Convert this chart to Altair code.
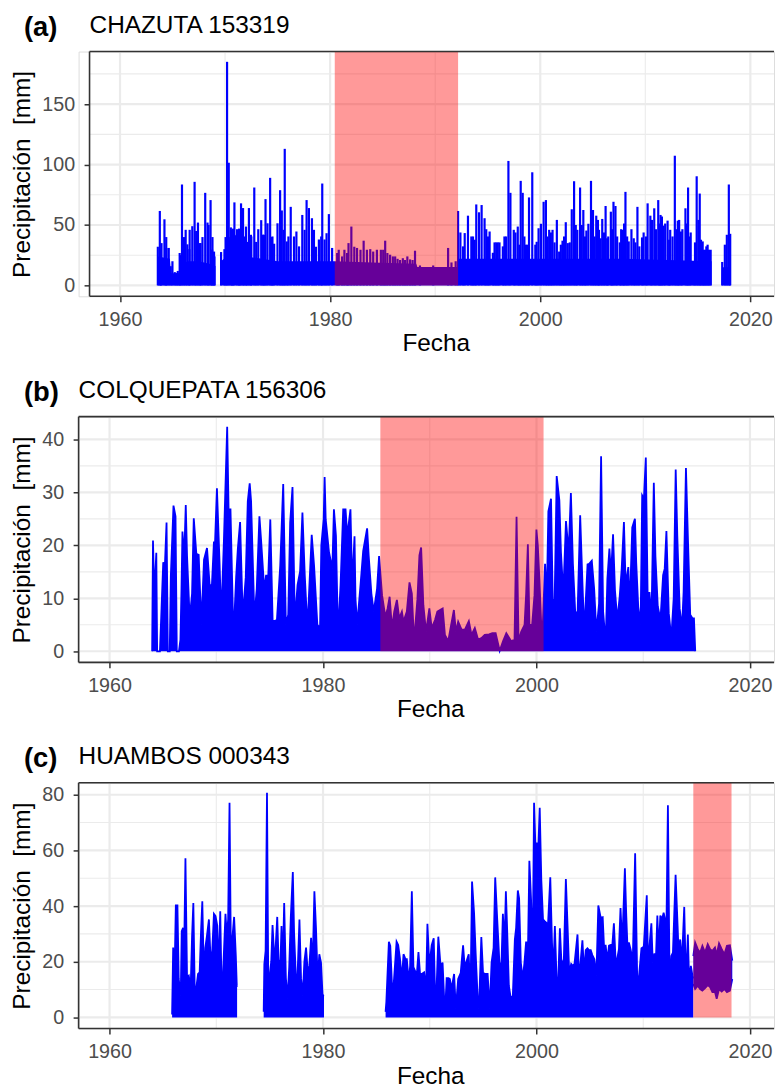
import altair as alt
import pandas as pd

FONT = "Liberation Sans"
BLUE = "#0000FF"

# ---------------- Panel (a) CHAZUTA 153319 ----------------
a_spikes = [
    (1963.60, 32), (1963.79, 61.6), (1963.88, 29.6), (1963.95, 35), (1964.23, 54.7), (1964.40, 40),
    (1964.42, 31), (1964.64, 31), (1964.83, 15.9), (1964.99, 20), (1965.21, 11), (1965.37, 10.4),
    (1965.50, 12), (1965.68, 26.8), (1965.73, 25), (1965.90, 83.5), (1966.08, 40), (1966.25, 46),
    (1966.41, 34), (1966.60, 30), (1966.63, 46), (1966.88, 49), (1967.10, 85.7), (1967.25, 45),
    (1967.42, 52), (1967.60, 35), (1967.67, 35), (1967.85, 40), (1968.11, 76.6), (1968.33, 52),
    (1968.43, 50), (1968.62, 70.6), (1968.77, 29.6), (1968.80, 40), (1968.95, 28), (1968.99, 24),
    (1969.62, 27.6), (1969.94, 30), (1970.05, 40), (1970.19, 185), (1970.35, 101.5), (1970.55, 48),
    (1970.67, 46), (1970.75, 47), (1970.89, 68.7), (1971.14, 46.5), (1971.33, 47), (1971.36, 46),
    (1971.52, 67.9), (1971.71, 64), (1971.83, 40.5), (1971.99, 48.7), (1972.10, 36), (1972.27, 64),
    (1972.46, 41.9), (1972.50, 40.5), (1972.78, 81), (1972.96, 36), (1973.16, 46.5), (1973.44, 54),
    (1973.60, 42), (1973.73, 41.9), (1973.85, 71.4), (1974.04, 51.4), (1974.29, 89), (1974.45, 40),
    (1974.51, 40.5), (1974.67, 34.5), (1974.99, 51.4), (1975.24, 78.8), (1975.40, 62), (1975.56, 46),
    (1975.68, 113), (1975.87, 36.4), (1976.03, 40.5), (1976.25, 65), (1976.56, 40.5), (1976.79, 44.6),
    (1977.04, 32.3), (1977.35, 58.3), (1977.57, 46), (1977.76, 70.6), (1977.98, 64), (1978.27, 55.6),
    (1978.46, 46), (1978.65, 32), (1978.93, 38), (1979.15, 40.5), (1979.25, 84.3), (1979.47, 38),
    (1979.66, 43.2), (1979.88, 59), (1980.19, 31),
    (1980.67, 26.8), (1980.82, 29.5), (1981.14, 24), (1981.36, 29.5), (1981.61, 26.8), (1981.75, 35),
    (1982.02, 48.7), (1982.30, 32), (1982.56, 31), (1982.89, 29.5), (1983.19, 37), (1983.50, 29.5),
    (1983.82, 30), (1984.10, 28), (1984.45, 29.5), (1984.83, 29.5), (1985.05, 29.5), (1985.24, 37),
    (1985.45, 26.8), (1985.71, 25.4), (1985.97, 24), (1986.19, 24), (1986.42, 22), (1986.66, 21),
    (1986.92, 22.5), (1987.13, 21), (1987.35, 24), (1987.61, 21.5), (1987.85, 21), (1988.08, 28.7),
    (1988.55, 16.5), (1989.81, 16.5), (1991.23, 31), (1991.55, 19), (1991.95, 20),
    (1992.18, 61.6), (1992.40, 43.8), (1992.65, 32.3), (1992.81, 43.3), (1993.12, 57.7), (1993.44, 40.5),
    (1993.60, 40.5), (1993.76, 37.8), (1993.91, 67), (1994.17, 60.5), (1994.42, 66.5), (1994.70, 55.6),
    (1994.86, 46.5), (1995.02, 40.5), (1995.18, 44.6), (1995.49, 27), (1995.65, 35.6), (1995.81, 35.6),
    (1995.96, 35.6), (1996.12, 35.6), (1996.44, 32.3), (1996.59, 40.5), (1996.75, 40.5), (1996.97, 103),
    (1997.16, 76.6), (1997.48, 46), (1997.64, 43.8), (1997.86, 48.7), (1998.01, 33.7), (1998.14, 86.5),
    (1998.33, 76.6), (1998.49, 40.5), (1998.65, 33.7), (1998.80, 33.7), (1998.93, 72.8), (1999.24, 93.6),
    (1999.53, 33.7), (1999.66, 36.1), (1999.84, 47.3), (2000.06, 51), (2000.32, 69.2), (2000.54, 70.6),
    (2000.70, 40.5), (2000.85, 46), (2001.01, 43.8), (2001.17, 46), (2001.36, 35.6), (2001.58, 54.2),
    (2001.80, 28), (2001.96, 33.7), (2002.12, 37), (2002.27, 40.5), (2002.43, 52.3), (2002.62, 35),
    (2002.81, 35.6), (2003.00, 63), (2003.22, 86.2), (2003.38, 50), (2003.53, 46), (2003.79, 81),
    (2003.95, 50), (2004.10, 62.4), (2004.26, 40.5), (2004.39, 45.4), (2004.58, 51), (2004.83, 86.5),
    (2005.02, 62.4), (2005.18, 40.5), (2005.33, 57.7), (2005.49, 54.2), (2005.59, 46), (2005.74, 39),
    (2005.90, 55), (2006.06, 43.8), (2006.22, 65.7), (2006.37, 39), (2006.47, 40.5), (2006.72, 61),
    (2006.85, 46.5), (2006.97, 69.2), (2007.16, 65.7), (2007.32, 40.5), (2007.57, 35.6), (2007.70, 46.5),
    (2007.86, 46), (2007.98, 51.2), (2008.11, 77.4), (2008.27, 40.5), (2008.42, 36.4), (2008.68, 46.5),
    (2008.90, 39), (2009.06, 35.6), (2009.25, 65), (2009.43, 32.3), (2009.69, 39.7), (2009.84, 43.8),
    (2010.06, 40.5), (2010.22, 67.9), (2010.48, 57.7), (2010.63, 54.2), (2010.85, 63.8), (2011.01, 46.5),
    (2011.23, 70.6), (2011.36, 51.2), (2011.45, 58.3), (2011.58, 57), (2011.74, 49.5), (2011.89, 51.2),
    (2012.12, 53.6), (2012.27, 37.8), (2012.37, 46), (2012.59, 40.5), (2012.81, 107.3), (2012.97, 46.5),
    (2013.09, 53.6), (2013.22, 54.2), (2013.38, 44.6), (2013.53, 46.5), (2013.82, 63.8), (2013.95, 51.2),
    (2014.07, 81), (2014.20, 40.5), (2014.32, 43.8), (2014.58, 17.5), (2014.73, 35.6), (2014.89, 90.3),
    (2015.05, 54.2), (2015.18, 76), (2015.30, 37.8), (2015.46, 36.4), (2015.55, 29.5), (2015.68, 29.5),
    (2015.81, 32.3), (2015.93, 33.7), (2016.06, 29.5), (2016.22, 29.5),
    (2017.32, 19.4), (2017.57, 33.7), (2017.76, 41.9), (2017.95, 83.5), (2018.08, 42.7),
]
# solid lower band of the daily series (block, year, value)
a_floor = [
    (1, 1963.57, 3), (1, 1963.62, 24), (1, 1964.75, 22), (1, 1964.85, 10), (1, 1965.60, 10),
    (1, 1965.70, 18), (1, 1966.50, 20), (1, 1967.50, 20), (1, 1968.50, 18), (1, 1969.09, 16),
    (2, 1969.53, 3), (2, 1969.60, 20), (2, 1970.30, 25), (2, 1970.40, 40), (2, 1971.00, 42),
    (2, 1971.40, 30), (2, 1972.00, 24), (2, 1975.00, 20), (2, 1980.40, 20), (2, 1984.00, 19),
    (2, 1988.20, 18), (2, 1988.30, 15.3), (2, 1992.10, 15.3), (2, 1992.20, 22), (2, 2000.00, 22),
    (2, 2008.00, 22), (2, 2016.31, 20),
    (3, 2017.26, 3), (3, 2017.30, 15), (3, 2018.10, 15), (3, 2018.14, 12),
]
a_shade = (1980.44, 1992.18)

# ---------------- Panel (b) COLQUEPATA 156306 ----------------
b_series = [
    (1963.99, 0), (1964.07, 20.9), (1964.19, 10.3), (1964.38, 18.6), (1964.46, 0), (1964.72, 0),
    (1964.87, 8.1), (1965.03, 16.8), (1965.18, 15.9), (1965.34, 24.3), (1965.46, 0), (1965.64, 0),
    (1965.74, 14.2), (1965.99, 27.5), (1966.18, 25.5), (1966.30, 0), (1966.50, 0), (1966.64, 2.2),
    (1966.74, 11.8), (1966.83, 22.6), (1966.99, 17.6), (1967.14, 27.6), (1967.26, 18), (1967.51, 6.2),
    (1967.73, 10.9), (1967.89, 25.1), (1968.13, 18.4), (1968.35, 18.2), (1968.60, 5), (1968.85, 17.3),
    (1969.13, 19.5), (1969.38, 12.5), (1969.59, 12.5), (1969.78, 20.7), (1969.87, 19.8), (1970.06, 30.8),
    (1970.31, 16.5), (1970.46, 6.2), (1970.71, 20.7), (1971.02, 42.4), (1971.15, 26.8), (1971.33, 26.8),
    (1971.61, 2.5), (1971.86, 14), (1972.02, 19.4), (1972.23, 24.4), (1972.48, 6.5), (1972.76, 14),
    (1972.95, 28.3), (1973.13, 31.7), (1973.26, 28.3), (1973.57, 6.4), (1973.79, 11.8), (1974.04, 25.5),
    (1974.19, 21.2), (1974.50, 11.5), (1974.66, 14.3), (1974.87, 14.3), (1975.06, 24.9), (1975.28, 5.6),
    (1975.68, 5.9), (1975.99, 16.2), (1976.27, 31.6), (1976.52, 5), (1976.74, 6.9), (1976.92, 24.3),
    (1977.14, 31), (1977.36, 5.6), (1977.61, 12.5), (1977.85, 15.1), (1978.07, 26.2), (1978.29, 14.3),
    (1978.54, 4.4), (1978.94, 22), (1979.16, 16.2), (1979.47, 5), (1979.72, 4.4), (1979.84, 20),
    (1980.06, 24.9), (1980.15, 32.9), (1980.25, 24.9), (1980.56, 18.7), (1980.87, 15.6), (1981.02, 26.8),
    (1981.21, 21.8), (1981.40, 3.1), (1981.64, 12.5), (1981.89, 26.8), (1982.02, 26.8), (1982.11, 26.8),
    (1982.27, 21.8), (1982.57, 26.8), (1982.73, 12.5), (1982.95, 21.7), (1983.04, 10), (1983.20, 5),
    (1983.51, 12.5), (1983.76, 18.9), (1984.13, 23.2), (1984.28, 18), (1984.53, 10.9), (1984.75, 7.5),
    (1985.06, 11.8), (1985.25, 18), (1985.53, 10.6), (1985.84, 6.5), (1986.05, 8.1), (1986.24, 10.3),
    (1986.46, 4.4), (1986.67, 7.5), (1986.92, 9.7), (1987.14, 6.2), (1987.39, 7.5), (1987.54, 5.6),
    (1987.85, 7.5), (1988.10, 13), (1988.32, 10.9), (1988.53, 1.9), (1988.84, 9.8), (1989.03, 18.1),
    (1989.19, 19.6), (1989.40, 8.7), (1989.65, 3.7), (1989.96, 8.1), (1990.18, 4.4), (1990.49, 5.9),
    (1990.71, 7.5), (1990.96, 7.8), (1991.21, 8.1), (1991.42, 3.1), (1991.73, 1.9), (1991.95, 4.4),
    (1992.26, 7.8), (1992.45, 3.7), (1992.66, 5.6), (1992.98, 4.1), (1993.29, 4.1), (1993.66, 5.7),
    (1993.91, 3.1), (1994.22, 4.4), (1994.53, 2.2), (1994.84, 2.5), (1995.15, 3.1), (1995.55, 3.2),
    (1995.86, 3.4), (1996.17, 3.4), (1996.55, 0.1), (1996.86, 1.9), (1997.17, 3.4), (1997.63, 1.9),
    (1997.94, 2.2), (1998.13, 25.4), (1998.32, 1.9), (1998.57, 3.7), (1998.88, 5), (1999.03, 10.9),
    (1999.19, 20.2), (1999.34, 5), (1999.59, 5), (1999.81, 10.6), (1999.99, 23), (2000.12, 20),
    (2000.27, 13.7), (2000.52, 1.2), (2000.80, 16.5), (2000.96, 9.7), (2001.11, 26.4), (2001.36, 28.8),
    (2001.52, 9.7), (2001.70, 9.7), (2001.89, 33.1), (2002.14, 28.5), (2002.29, 18.7), (2002.51, 10.9),
    (2002.76, 24.6), (2003.01, 18.7), (2003.22, 29.9), (2003.41, 16.5), (2003.63, 7.2), (2003.85, 7.5),
    (2004.09, 25.7), (2004.31, 12.5), (2004.47, 3.7), (2004.78, 16.4), (2004.93, 16.5), (2005.18, 17.1),
    (2005.40, 11.8), (2005.61, 3.7), (2005.86, 9), (2006.05, 36.8), (2006.24, 7.5), (2006.48, 1.6),
    (2006.64, 13.7), (2006.83, 19.4), (2006.98, 14.3), (2007.17, 22.1), (2007.35, 11.5), (2007.57, 5.9),
    (2007.79, 10.3), (2007.98, 15.6), (2008.19, 24.4), (2008.35, 12.5), (2008.60, 15.9), (2008.72, 7.5),
    (2008.97, 23.4), (2009.22, 25), (2009.34, 16.8), (2009.53, 8.4), (2009.75, 5), (2009.90, 29.4),
    (2010.06, 28.8), (2010.24, 36.6), (2010.43, 7.6), (2010.58, 11.2), (2010.77, 6.2), (2010.99, 31.8),
    (2011.14, 18), (2011.36, 8.5), (2011.61, 5.9), (2011.86, 14.4), (2012.01, 15.6), (2012.17, 22.7),
    (2012.39, 7.2), (2012.63, 2.5), (2012.85, 10), (2013.04, 34.3), (2013.19, 21.8), (2013.41, 8.1),
    (2013.63, 4.4), (2013.78, 11.2), (2014.00, 34.6), (2014.19, 20.9), (2014.40, 6.9), (2014.62, 6.2),
    (2014.75, 6.2), (2014.87, 0),
]
b_shade = (1985.37, 2000.66)

# ---------------- Panel (c) HUAMBOS 000343 ----------------
c_series = [
    (1, 1965.86, 1), (1, 1965.96, 25.1), (1, 1966.05, 7.1), (1, 1966.21, 40.2), (1, 1966.36, 40.2),
    (1, 1966.48, 13.8), (1, 1966.67, 7.8), (1, 1966.76, 31), (1, 1966.89, 32.2), (1, 1966.98, 21),
    (1, 1967.11, 57.2), (1, 1967.26, 14.4), (1, 1967.42, 15), (1, 1967.60, 10.7), (1, 1967.73, 29.2),
    (1, 1967.85, 41.1), (1, 1967.98, 10.1), (1, 1968.13, 10.7), (1, 1968.29, 15.6), (1, 1968.44, 16.2),
    (1, 1968.57, 30.9), (1, 1968.69, 41.7), (1, 1968.85, 12.8), (1, 1968.97, 25), (1, 1969.12, 29.2),
    (1, 1969.31, 35.2), (1, 1969.47, 20.3), (1, 1969.62, 23.9), (1, 1969.78, 37.2), (1, 1969.93, 36.4),
    (1, 1970.09, 33), (1, 1970.21, 16.2), (1, 1970.37, 38.1), (1, 1970.52, 5.5), (1, 1970.68, 20.3),
    (1, 1970.86, 37.2), (1, 1970.99, 29.2), (1, 1971.11, 35.2), (1, 1971.24, 77.1), (1, 1971.39, 13.8),
    (1, 1971.52, 29.2), (1, 1971.67, 36.1), (1, 1971.83, 22.1), (1, 1971.92, 11.4), (1, 1971.95, 11),
    (2, 1974.44, 2), (2, 1974.50, 19.1), (2, 1974.62, 23.9), (2, 1974.75, 80.7), (2, 1974.87, 11.9),
    (2, 1975.03, 16), (2, 1975.15, 20.2), (2, 1975.27, 33.2), (2, 1975.40, 24.1), (2, 1975.55, 24.4),
    (2, 1975.71, 36.1), (2, 1975.83, 20.8), (2, 1975.99, 17.3), (2, 1976.11, 32.8), (2, 1976.21, 16.6),
    (2, 1976.36, 41.1), (2, 1976.52, 14.1), (2, 1976.67, 6.7), (2, 1976.83, 17.9), (2, 1976.98, 36.1),
    (2, 1977.17, 52.2), (2, 1977.29, 30.2), (2, 1977.45, 15), (2, 1977.60, 13.8), (2, 1977.79, 35.2),
    (2, 1977.94, 14.1), (2, 1978.10, 7.8), (2, 1978.25, 20), (2, 1978.41, 25.1), (2, 1978.57, 16.2),
    (2, 1978.72, 18.5), (2, 1978.88, 28.6), (2, 1979.03, 18.5), (2, 1979.19, 45.3), (2, 1979.34, 32.2),
    (2, 1979.50, 13.3), (2, 1979.65, 22.7), (2, 1979.81, 19.7), (2, 1979.96, 7.8), (2, 1980.09, 8),
    (3, 1985.86, 2), (3, 1985.93, 5.5), (3, 1986.17, 27.2), (3, 1986.30, 25.7), (3, 1986.45, 12.4),
    (3, 1986.61, 11.4), (3, 1986.89, 27.2), (3, 1987.04, 26), (3, 1987.20, 21.4), (3, 1987.39, 13.8),
    (3, 1987.54, 22.7), (3, 1987.73, 20.9), (3, 1987.85, 20.9), (3, 1988.04, 12.6), (3, 1988.16, 18.5),
    (3, 1988.32, 45.3), (3, 1988.47, 18.1), (3, 1988.63, 16.6), (3, 1988.78, 15), (3, 1988.94, 23.5),
    (3, 1989.09, 15.6), (3, 1989.25, 15.6), (3, 1989.47, 16.2), (3, 1989.65, 10.1), (3, 1989.78, 33.6),
    (3, 1989.96, 18.5), (3, 1990.18, 25.9), (3, 1990.37, 28.4), (3, 1990.55, 0.5), (3, 1990.80, 29),
    (3, 1991.02, 18), (3, 1991.20, 19.7), (3, 1991.42, 0.5), (3, 1991.58, 14.1), (3, 1991.76, 14.1),
    (3, 1991.88, 13.8), (3, 1992.04, 10.2), (3, 1992.28, 15.6), (3, 1992.44, 3.1), (3, 1992.66, 13.8),
    (3, 1992.90, 16), (3, 1993.12, 25.9), (3, 1993.28, 17.9), (3, 1993.43, 20), (3, 1993.65, 22.7),
    (3, 1993.81, 6.7), (3, 1993.96, 48.8), (3, 1994.15, 37.6), (3, 1994.30, 23), (3, 1994.49, 6.9),
    (3, 1994.61, 3.1), (3, 1994.83, 28.9), (3, 1994.99, 16), (3, 1995.20, 15.6), (3, 1995.42, 15.6),
    (3, 1995.61, 3.1), (3, 1995.79, 19.7), (3, 1995.98, 25), (3, 1996.13, 50.3), (3, 1996.32, 35.2),
    (3, 1996.54, 18.5), (3, 1996.72, 19.7), (3, 1996.85, 37.2), (3, 1997.00, 25.9), (3, 1997.13, 45.3),
    (3, 1997.25, 31.5), (3, 1997.41, 11.4), (3, 1997.59, 6.7), (3, 1997.78, 7.8), (3, 1997.97, 28),
    (3, 1998.09, 32.2), (3, 1998.25, 45.6), (3, 1998.37, 42.8), (3, 1998.53, 19.7), (3, 1998.71, 13.8),
    (3, 1998.87, 19.7), (3, 1999.02, 26.9), (3, 1999.21, 26.9), (3, 1999.33, 56.3), (3, 1999.49, 42.3),
    (3, 1999.64, 20.9), (3, 1999.77, 77.1), (3, 1999.89, 62.5), (3, 2000.02, 62.5), (3, 2000.14, 57.8),
    (3, 2000.30, 75.3), (3, 2000.45, 49.4), (3, 2000.61, 35.2), (3, 2000.76, 34.6), (3, 2000.92, 34),
    (3, 2001.07, 32.8), (3, 2001.29, 50.3), (3, 2001.45, 26.9), (3, 2001.57, 16.2), (3, 2001.72, 32.8),
    (3, 2001.88, 13.8), (3, 2002.04, 13.8), (3, 2002.19, 32), (3, 2002.35, 18.5), (3, 2002.56, 20.9),
    (3, 2002.75, 49.7), (3, 2002.91, 32.8), (3, 2003.06, 16.2), (3, 2003.25, 19.2), (3, 2003.40, 18.5),
    (3, 2003.56, 19.2), (3, 2003.84, 29.8), (3, 2003.99, 13.8), (3, 2004.15, 20.9), (3, 2004.30, 27.7),
    (3, 2004.46, 16.2), (3, 2004.61, 24.2), (3, 2004.77, 24.8), (3, 2004.92, 24.2), (3, 2005.08, 24.2),
    (3, 2005.23, 22.4), (3, 2005.42, 20.9), (3, 2005.61, 15), (3, 2005.79, 40.2), (3, 2006.01, 35.8),
    (3, 2006.20, 36), (3, 2006.32, 25.8), (3, 2006.48, 25.8), (3, 2006.63, 20.4), (3, 2006.79, 25.8),
    (3, 2006.94, 26), (3, 2007.10, 25.8), (3, 2007.25, 33.8), (3, 2007.41, 20.4), (3, 2007.56, 21),
    (3, 2007.72, 24.5), (3, 2007.87, 39.3), (3, 2008.03, 25.8), (3, 2008.28, 53.6), (3, 2008.40, 37.6),
    (3, 2008.53, 24.5), (3, 2008.65, 26.9), (3, 2008.81, 24.5), (3, 2009.02, 20.4), (3, 2009.24, 59),
    (3, 2009.43, 15), (3, 2009.58, 13.8), (3, 2009.83, 24.8), (3, 2010.05, 25.4), (3, 2010.33, 43.9),
    (3, 2010.45, 19), (3, 2010.61, 26.9), (3, 2010.76, 33.8), (3, 2010.89, 19.7), (3, 2011.04, 22.7),
    (3, 2011.20, 22.7), (3, 2011.32, 36.6), (3, 2011.45, 23.3), (3, 2011.60, 36.6), (3, 2011.76, 35.2),
    (3, 2011.91, 37.6), (3, 2012.04, 35.2), (3, 2012.16, 28.6), (3, 2012.31, 76.2), (3, 2012.47, 11.4),
    (3, 2012.63, 22.1), (3, 2012.78, 23.3), (3, 2013.03, 51.2), (3, 2013.22, 32.8), (3, 2013.31, 23.3),
    (3, 2013.46, 28), (3, 2013.62, 19.7), (3, 2013.84, 39.7), (3, 2014.00, 12.4), (3, 2014.18, 29.8),
    (3, 2014.30, 12.4), (3, 2014.46, 18.5), (3, 2014.61, 15), (3, 2014.68, 14),
]
# last stretch: series oscillating inside a band (year, low, high)
c_band = [
    (2014.69, 12, 22), (2014.86, 10.2, 26.9), (2015.11, 11.4, 24.5), (2015.33, 10.2, 23.3),
    (2015.54, 9.6, 25.7), (2015.79, 10.5, 23.3), (2016.04, 11.6, 26.3), (2016.26, 10.9, 24.5),
    (2016.48, 9.1, 23.9), (2016.72, 9.1, 25.1), (2016.88, 6.7, 22.5), (2017.10, 10.2, 26.6),
    (2017.35, 9.3, 24.5), (2017.60, 10.2, 22.7), (2017.84, 9.1, 25.7), (2018.12, 9.6, 25.9),
    (2018.34, 13.8, 20.4),
]
c_shade = (2014.69, 2018.27)

X_DOMAIN = [1957.1, 2022.25]
X_MAJOR = [1960, 1980, 2000, 2020]
X_MINOR = [1970, 1990, 2010]
Y_TITLE = "Precipitación\u00a0\u00a0[mm]"
W = 699
LABEL_SIZE = 19.8
TITLE_SIZE = 24.5


def make_panel(H, x0, ydom, ymajor, yminor, shade, tag, title, title_x, data_layers):
    xs = alt.Scale(domain=X_DOMAIN, range=[x0, W], nice=False, zero=False)
    ys = alt.Scale(domain=ydom, nice=False, zero=False)
    xax = alt.Axis(
        values=X_MAJOR, format="d", title="Fecha", grid=False, domain=False,
        labelFont=FONT, labelFontSize=LABEL_SIZE, labelColor="#4D4D4D", labelPadding=8,
        tickColor="#333333", tickWidth=1.5, tickSize=5.5,
        titleFont=FONT, titleFontSize=TITLE_SIZE, titleFontWeight="normal", titleColor="black",
        titlePadding=2.5, titleX=title_x, titleAlign="center")
    yax = alt.Axis(
        values=ymajor, format="d", title=Y_TITLE, grid=False, domain=False,
        labelFont=FONT, labelFontSize=LABEL_SIZE, labelColor="#4D4D4D", labelPadding=9.5,
        tickColor="#333333", tickWidth=1.5, tickSize=5.5, offset=-x0,
        titleFont=FONT, titleFontSize=TITLE_SIZE, titleFontWeight="normal", titleColor="black",
        titlePadding=7)
    X = lambda f: alt.X(f, scale=xs, axis=xax)
    Y = lambda f: alt.Y(f, scale=ys, axis=yax)

    axis_layer = alt.Chart(pd.DataFrame({"x": [1960], "y": [0]})).mark_point(opacity=0).encode(
        x=X("x:Q"), y=Y("y:Q"))
    hmin = alt.Chart(pd.DataFrame({"y": yminor})).mark_rule(color="#EBEBEB", strokeWidth=1.1).encode(
        y=Y("y:Q"), x=alt.value(x0), x2=alt.value(W))
    hmaj = alt.Chart(pd.DataFrame({"y": ymajor})).mark_rule(color="#EBEBEB", strokeWidth=2.2).encode(
        y=Y("y:Q"), x=alt.value(x0), x2=alt.value(W))
    vmin = alt.Chart(pd.DataFrame({"x": X_MINOR})).mark_rule(color="#EBEBEB", strokeWidth=1.1).encode(
        x=X("x:Q"))
    vmaj = alt.Chart(pd.DataFrame({"x": X_MAJOR})).mark_rule(color="#EBEBEB", strokeWidth=2.2).encode(
        x=X("x:Q"))
    layers = [axis_layer, hmin, hmaj, vmin, vmaj]
    layers += [f(X, Y) for f in data_layers]
    shade_df = pd.DataFrame({"x0": [shade[0]], "x1": [shade[1]], "y0": [0], "y1": [ydom[1]]})
    layers.append(alt.Chart(shade_df).mark_rect(color="#FF0000", opacity=0.4).encode(
        x=X("x0:Q"), x2="x1", y=Y("y0:Q"), y2="y1"))
    one = pd.DataFrame({"d": [0]})
    border = dict(color="#333333", strokeWidth=1.6)
    layers.append(alt.Chart(one).mark_rule(**border).encode(
        x=alt.value(x0), x2=alt.value(W), y=alt.value(0)))
    layers.append(alt.Chart(one).mark_rule(**border).encode(
        x=alt.value(x0), x2=alt.value(W), y=alt.value(H)))
    layers.append(alt.Chart(one).mark_rule(**border).encode(
        x=alt.value(x0), y=alt.value(0), y2=alt.value(H)))
    layers.append(alt.Chart(pd.DataFrame({"t": [tag]})).mark_text(
        align="left", baseline="alphabetic", font=FONT, fontSize=27.5, fontWeight="bold",
        color="black").encode(text="t:N", x=alt.value(-55), y=alt.value(-16)))
    layers.append(alt.Chart(pd.DataFrame({"t": [title]})).mark_text(
        align="left", baseline="alphabetic", font=FONT, fontSize=TITLE_SIZE, color="black").encode(
        text="t:N", x=alt.value(x0), y=alt.value(-18.5)))
    return alt.layer(*layers).properties(width=W, height=H)


def spikes_layer(pairs):
    df = pd.DataFrame(pairs, columns=["yr", "v"])
    def f(X, Y):
        return alt.Chart(df).mark_rule(color=BLUE, strokeWidth=2.2).encode(
            x=X("yr:Q"), y=Y("v:Q"), y2=alt.datum(0))
    return f


def area_layer(rows, with_line=False):
    df = pd.DataFrame(rows, columns=["blk", "yr", "v"])
    def f(X, Y):
        base = alt.Chart(df).encode(x=X("yr:Q"), y=Y("v:Q"), detail="blk:N")
        ar = base.mark_area(color=BLUE, opacity=1).encode(y2=alt.datum(0))
        if with_line:
            return alt.layer(ar, base.mark_line(color=BLUE, strokeWidth=1.8))
        return ar
    return f


def band_layer(rows):
    df = pd.DataFrame(rows, columns=["yr", "lo", "hi"])
    def f(X, Y):
        base = alt.Chart(df).encode(x=X("yr:Q"))
        ar = base.mark_area(color=BLUE).encode(y=Y("lo:Q"), y2="hi")
        l1 = base.mark_line(color=BLUE, strokeWidth=1.8).encode(y=Y("lo:Q"))
        l2 = base.mark_line(color=BLUE, strokeWidth=1.8).encode(y=Y("hi:Q"))
        return alt.layer(ar, l1, l2)
    return f


b_rows = [(1, y, v) for (y, v) in b_series]

pa = make_panel(246, 11, [-9.0, 193.5], [0, 50, 100, 150], [25, 75, 125, 175], a_shade,
                "(a)", "CHAZUTA 153319", 359,
                [area_layer(a_floor), spikes_layer(a_spikes)])
pb = make_panel(247, 0, [-2.1, 44.3], [0, 10, 20, 30, 40], [5, 15, 25, 35], b_shade,
                "(b)", "COLQUEPATA 156306", 353.5,
                [area_layer(b_rows, with_line=True)])
pc = make_panel(247, 0, [-4.0, 84.3], [0, 20, 40, 60, 80], [10, 30, 50, 70], c_shade,
                "(c)", "HUAMBOS 000343", 353.5,
                [area_layer(c_series, with_line=True), band_layer(c_band)])

chart = alt.vconcat(pa, pb, pc, spacing=22).properties(
    padding={"left": 9, "top": 10, "right": 0, "bottom": 0}
).configure_view(stroke=None).configure(background="white")

chart.save("out.html", embed_options={"renderer": "svg", "actions": False})
